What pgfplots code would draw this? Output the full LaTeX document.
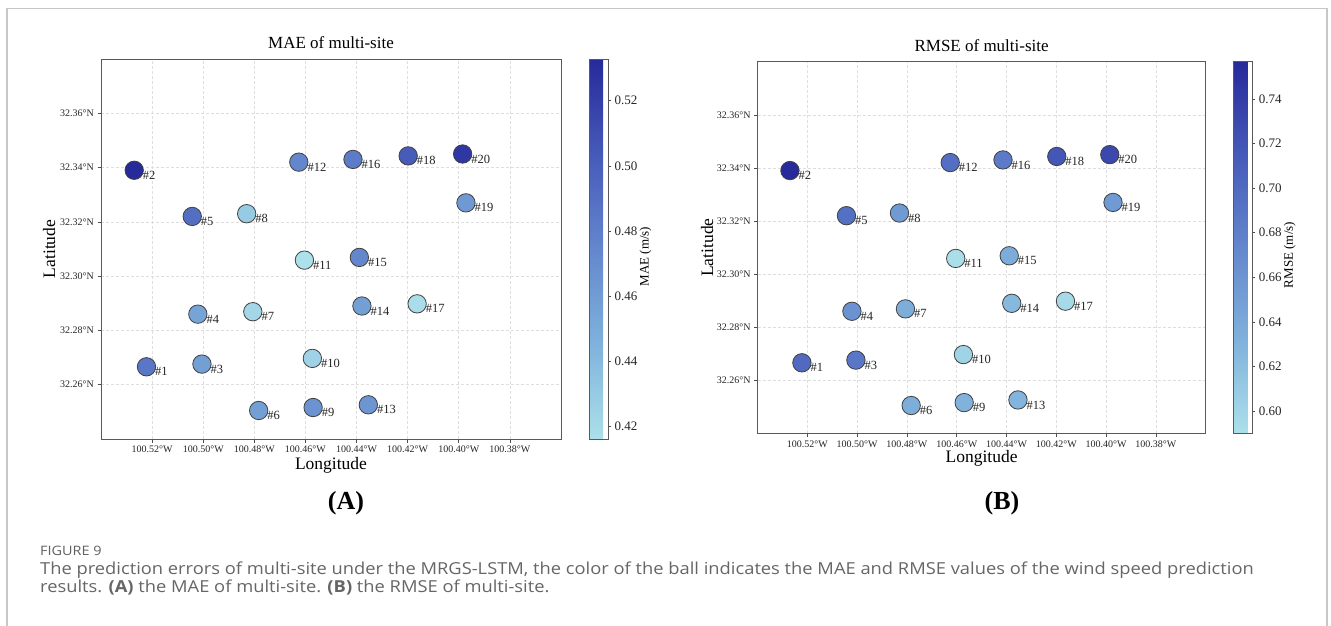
\documentclass[border=0pt]{standalone}
\usepackage{pgfplots}
\usepackage{pgfplotstable}
\pgfplotsset{compat=1.18}
\usepackage{fontspec}
\setmainfont{Liberation Serif}
\newfontfamily\capfont{Open Sans}

\pgfplotstableread{
id lon       lat     mae    rmse
1  -100.5222 32.2666 0.485  0.700
2  -100.5270 32.3390 0.5328 0.7567
3  -100.5005 32.2676 0.458  0.688
4  -100.5021 32.2860 0.455  0.662
5  -100.5043 32.3220 0.490  0.695
6  -100.4783 32.2505 0.458  0.636
7  -100.4806 32.2869 0.422  0.636
8  -100.4830 32.3230 0.430  0.655
9  -100.4570 32.2516 0.467  0.632
10 -100.4573 32.2697 0.425  0.602
11 -100.4604 32.3059 0.4162 0.592
12 -100.4626 32.3420 0.475  0.697
13 -100.4354 32.2526 0.465  0.630
14 -100.4379 32.2890 0.458  0.625
15 -100.4389 32.3069 0.475  0.637
16 -100.4414 32.3430 0.482  0.685
17 -100.4163 32.2898 0.418  0.595
18 -100.4198 32.3443 0.503  0.718
19 -100.3972 32.3270 0.462  0.655
20 -100.3985 32.3450 0.525  0.730
}\sites

\pgfplotsset{
  colormap={errmap}{rgb255=(172,224,234) rgb255=(128,178,220) rgb255=(100,135,205) rgb255=(70,90,185) rgb255=(38,42,155)},
  sitemap/.style={
    scale only axis,
    xmin=-100.54, xmax=-100.36, ymin=32.24, ymax=32.38,
    xtick={-100.52,-100.50,-100.48,-100.46,-100.44,-100.42,-100.40,-100.38},
    xticklabels={100.52°W,100.50°W,100.48°W,100.46°W,100.44°W,100.42°W,100.40°W,100.38°W},
    ytick={32.26,32.28,32.30,32.32,32.34,32.36},
    yticklabels={32.26°N,32.28°N,32.30°N,32.32°N,32.34°N,32.36°N},
    tick align=outside, xtick pos=bottom, ytick pos=left, major tick length=3.5pt,
    tick style={black!70, line width=0.6pt},
    axis line style={black!65, line width=0.9pt},
    grid=major, major grid style={densely dashed, black!13, line width=0.6pt},
    ticklabel style={font=\fontsize{10}{12}\selectfont, text=black!85},
    label style={font=\fontsize{17.5}{20}\selectfont},
    title style={font=\fontsize{17}{20}\selectfont, anchor=center},
    xlabel style={anchor=center},
    ylabel style={anchor=center},
    colorbar, colormap name=errmap,
    colorbar shift/.style={xshift=28pt},
  },
  cbstyle/.style={
    at={(parent axis.north east)}, anchor=north west,
    scale only axis, width=19pt,
    axis line style={black!65, line width=0.8pt},
    tick style={black!70, line width=0.6pt},
    tick align=outside, major tick length=3pt,
    ytick pos=right, yticklabel pos=right,
    yticklabel style={font=\fontsize{13}{15}\selectfont, text=black!85,
      /pgf/number format/.cd, fixed, fixed zerofill, precision=2, assume math mode=true},
    ylabel style={font=\fontsize{13}{15}\selectfont, anchor=center, at={(axis description cs:2.97,0.48)}},
  },
}

\begin{document}
\begin{tikzpicture}[x=1pt,y=1pt]
\useasboundingbox (0,0) rectangle (1331,-626);
\fill[white] (0,0) rectangle (1331,-626);
\draw[black!22, line width=1.2pt] (7,-626) -- (7,-8.5) -- (1327,-8.5) -- (1327,-626);

% Panel A
\begin{axis}[sitemap,
  at={(101pt,-59pt)}, anchor=north west,
  width=460pt, height=380pt,
  title={MAE of multi-site},
  title style={at={(axis description cs:0.5,1.0263)}},
  xlabel={Longitude}, ylabel={Latitude},
  xlabel style={at={(axis description cs:0.5,-0.0703)}},
  ylabel style={at={(axis description cs:-0.1130,0.5)}},
  point meta min=0.4162, point meta max=0.5328,
  colorbar style={cbstyle, height=380pt,
    ytick={0.42,0.44,0.46,0.48,0.50,0.52},
    ylabel={MAE (m/s)}},
]
\addplot[scatter, only marks, mark=*, mark size=9.2pt,
  point meta=explicit,
  scatter/use mapped color={draw=black!75, fill=mapped color, line width=0.8pt}]
  table[x=lon, y=lat, meta=mae] {\sites};
\addplot[only marks, mark=none, point meta=explicit symbolic,
  nodes near coords={\#\pgfplotspointmeta},
  every node near coord/.append style={anchor=west, xshift=8.5pt, yshift=-5pt,
    inner sep=0pt, text=black!85, font=\fontsize{12.5}{14}\selectfont}]
  table[x=lon, y=lat, meta=id] {\sites};
\end{axis}

% Panel B
\begin{axis}[sitemap,
  at={(757.6pt,-61.7pt)}, anchor=north west,
  width=448pt, height=371.7pt,
  title={RMSE of multi-site},
  title style={at={(axis description cs:0.5,1.0261)}},
  xlabel={Longitude}, ylabel={Latitude},
  xlabel style={at={(axis description cs:0.5,-0.0665)}},
  ylabel style={at={(axis description cs:-0.1129,0.5)}},
  point meta min=0.590, point meta max=0.7567,
  colorbar shift/.style={xshift=27.7pt},
  colorbar style={cbstyle, height=371.7pt,
    ytick={0.60,0.62,0.64,0.66,0.68,0.70,0.72,0.74},
    ylabel={RMSE (m/s)}},
]
\addplot[scatter, only marks, mark=*, mark size=9.2pt,
  point meta=explicit,
  scatter/use mapped color={draw=black!75, fill=mapped color, line width=0.8pt}]
  table[x=lon, y=lat, meta=rmse] {\sites};
\addplot[only marks, mark=none, point meta=explicit symbolic,
  nodes near coords={\#\pgfplotspointmeta},
  every node near coord/.append style={anchor=west, xshift=8.5pt, yshift=-5pt,
    inner sep=0pt, text=black!85, font=\fontsize{12.5}{14}\selectfont}]
  table[x=lon, y=lat, meta=id] {\sites};
\end{axis}

\node[font=\bfseries\fontsize{26}{30}\selectfont] at (346,-503) {(A)};
\node[font=\bfseries\fontsize{26}{30}\selectfont] at (1002,-503) {(B)};

\node[anchor=base west, inner sep=0pt, text=black!62, font=\capfont\fontsize{13}{15}\selectfont] at (40,-555) {\scalebox{1.11}[1]{FIGURE 9}};
\node[anchor=base west, inner sep=0pt, text=black!60, font=\capfont\fontsize{16.5}{18}\selectfont] at (40,-574) {\scalebox{1.11}[1]{The prediction errors of multi-site under the MRGS-LSTM, the color of the ball indicates the MAE and RMSE values of the wind speed prediction}};
\node[anchor=base west, inner sep=0pt, text=black!60, font=\capfont\fontsize{16.5}{18}\selectfont] at (40,-592) {\scalebox{1.11}[1]{results. {\bfseries (A)} the MAE of multi-site. {\bfseries (B)} the RMSE of multi-site.}};
\end{tikzpicture}
\end{document}
